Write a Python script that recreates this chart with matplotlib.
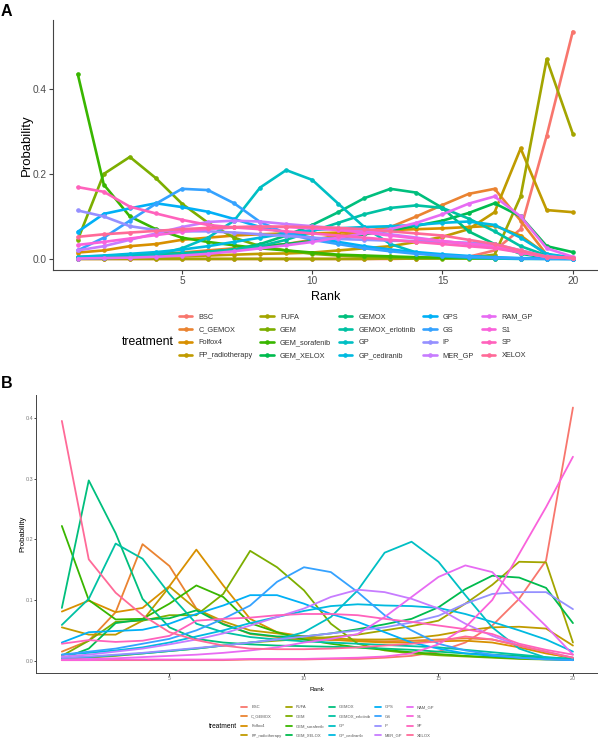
import numpy as np
import matplotlib
matplotlib.use("Agg")
import matplotlib.pyplot as plt

plt.rcParams['font.family'] = ['Liberation Sans', 'DejaVu Sans']

W, H = 598, 747

ranks = list(range(1, 21))

treatments = ["BSC", "C_GEMOX", "Folfox4", "FP_radiotherapy", "FUFA", "GEM",
              "GEM_sorafenib", "GEM_XELOX", "GEMOX", "GEMOX_erlotinib", "GP",
              "GP_cediranib", "GPS", "GS", "IP", "MER_GP", "RAM_GP", "S1", "SP", "XELOX"]

# ggplot default hue palette, 20 levels
colours = ["#F8766D", "#EA8331", "#D89000", "#C09B00", "#A3A500", "#7CAE00",
           "#39B600", "#00BB4E", "#00BF7D", "#00C1A3", "#00BFC4", "#00BAE0",
           "#00B0F6", "#35A2FF", "#9590FF", "#C77CFF", "#E76BF3", "#FA62DB",
           "#FF62BC", "#FF6A98"]

# ---- panel A rank probabilities ----
a_bsc = [0, 0, 0, 0, 0, 0, 0, 0, 0, 0, 0, 0, 0, 0.001, 0.002, 0.005, 0.02, 0.07, 0.29, 0.535]
a_c_gemox = [0.005, 0.007, 0.01, 0.012, 0.015, 0.02, 0.025, 0.03, 0.035, 0.045, 0.055, 0.065, 0.075, 0.1, 0.127, 0.153, 0.165, 0.09, 0.01, 0.002]
a_folfox4 = [0.015, 0.02, 0.03, 0.035, 0.045, 0.05, 0.055, 0.058, 0.06, 0.06, 0.062, 0.065, 0.068, 0.07, 0.072, 0.075, 0.078, 0.055, 0.01, 0.003]
a_fp_radio = [0.002, 0.003, 0.004, 0.005, 0.006, 0.008, 0.01, 0.012, 0.013, 0.015, 0.02, 0.025, 0.03, 0.04, 0.052, 0.07, 0.11, 0.26, 0.115, 0.11]
a_fufa = [0, 0, 0, 0, 0, 0, 0, 0, 0, 0, 0, 0, 0.001, 0.001, 0.002, 0.003, 0.01, 0.147, 0.47, 0.295]
a_gem = [0.045, 0.2, 0.24, 0.19, 0.13, 0.085, 0.05, 0.03, 0.02, 0.012, 0.008, 0.005, 0.003, 0.002, 0.001, 0.001, 0.001, 0.001, 0.001, 0.001]
a_gem_sora = [0.435, 0.175, 0.1, 0.07, 0.05, 0.04, 0.032, 0.025, 0.02, 0.015, 0.01, 0.008, 0.006, 0.004, 0.003, 0.002, 0.002, 0.001, 0.001, 0.001]
a_gem_xelox = [0.003, 0.005, 0.008, 0.01, 0.013, 0.017, 0.022, 0.028, 0.035, 0.042, 0.05, 0.058, 0.067, 0.078, 0.09, 0.108, 0.131, 0.1, 0.03, 0.016]
a_gemox = [0.002, 0.003, 0.005, 0.007, 0.01, 0.015, 0.022, 0.035, 0.055, 0.08, 0.11, 0.143, 0.165, 0.156, 0.12, 0.065, 0.035, 0.012, 0.003, 0.001]
a_gemox_erl = [0.003, 0.005, 0.007, 0.01, 0.013, 0.017, 0.022, 0.03, 0.045, 0.065, 0.085, 0.105, 0.12, 0.126, 0.12, 0.095, 0.065, 0.03, 0.008, 0.002]
a_gp = [0.001, 0.002, 0.004, 0.01, 0.025, 0.05, 0.09, 0.168, 0.209, 0.186, 0.13, 0.075, 0.035, 0.015, 0.006, 0.003, 0.001, 0, 0, 0]
a_gp_cedi = [0.005, 0.008, 0.012, 0.016, 0.022, 0.03, 0.04, 0.05, 0.06, 0.068, 0.072, 0.075, 0.077, 0.08, 0.085, 0.088, 0.08, 0.05, 0.012, 0.003]
a_gps = [0.064, 0.106, 0.119, 0.131, 0.122, 0.111, 0.094, 0.075, 0.062, 0.05, 0.04, 0.03, 0.022, 0.016, 0.011, 0.007, 0.004, 0.002, 0.001, 0]
a_gs = [0.02, 0.05, 0.09, 0.13, 0.165, 0.162, 0.131, 0.087, 0.06, 0.045, 0.035, 0.025, 0.018, 0.012, 0.008, 0.005, 0.003, 0.001, 0, 0]
a_ip = [0.114, 0.1, 0.077, 0.068, 0.065, 0.065, 0.062, 0.058, 0.054, 0.05, 0.047, 0.045, 0.043, 0.042, 0.04, 0.038, 0.035, 0.02, 0.006, 0.002]
a_mer_gp = [0.02, 0.03, 0.045, 0.06, 0.075, 0.087, 0.09, 0.088, 0.082, 0.077, 0.072, 0.065, 0.058, 0.05, 0.042, 0.035, 0.028, 0.015, 0.005, 0.002]
a_ram_gp = [0.001, 0.002, 0.003, 0.005, 0.008, 0.012, 0.018, 0.025, 0.032, 0.04, 0.05, 0.06, 0.07, 0.085, 0.105, 0.13, 0.147, 0.1, 0.025, 0.005]
a_s1 = [0.033, 0.04, 0.048, 0.056, 0.064, 0.07, 0.074, 0.076, 0.075, 0.072, 0.068, 0.062, 0.055, 0.048, 0.042, 0.036, 0.03, 0.015, 0.005, 0.002]
a_sp = [0.169, 0.158, 0.123, 0.107, 0.092, 0.08, 0.074, 0.07, 0.065, 0.06, 0.055, 0.05, 0.045, 0.04, 0.035, 0.03, 0.025, 0.015, 0.005, 0.002]
a_xelox = [0.052, 0.058, 0.062, 0.066, 0.07, 0.073, 0.075, 0.076, 0.076, 0.075, 0.073, 0.07, 0.065, 0.06, 0.055, 0.045, 0.035, 0.02, 0.005, 0.002]

# ---- panel B rank probabilities ----
b_bsc = [0.001, 0.001, 0.001, 0.001, 0.001, 0.001, 0.001, 0.002, 0.002, 0.002, 0.003, 0.003, 0.005, 0.008, 0.015, 0.03, 0.058, 0.102, 0.165, 0.417]
b_c_gemox = [0.015, 0.033, 0.08, 0.192, 0.156, 0.086, 0.061, 0.044, 0.039, 0.036, 0.034, 0.033, 0.032, 0.033, 0.035, 0.037, 0.035, 0.025, 0.013, 0.004]
b_folfox4 = [0.081, 0.099, 0.08, 0.087, 0.123, 0.183, 0.124, 0.069, 0.047, 0.04, 0.035, 0.032, 0.03, 0.03, 0.032, 0.033, 0.03, 0.022, 0.012, 0.005]
b_fp_radio = [0.055, 0.043, 0.043, 0.066, 0.122, 0.085, 0.065, 0.05, 0.045, 0.04, 0.037, 0.035, 0.035, 0.037, 0.042, 0.05, 0.055, 0.056, 0.053, 0.025]
b_fufa = [0.003, 0.005, 0.008, 0.012, 0.016, 0.02, 0.025, 0.03, 0.033, 0.036, 0.039, 0.043, 0.05, 0.057, 0.066, 0.094, 0.125, 0.163, 0.162, 0.03]
b_gem = [0.008, 0.033, 0.064, 0.066, 0.075, 0.075, 0.11, 0.181, 0.154, 0.116, 0.061, 0.028, 0.017, 0.012, 0.009, 0.007, 0.005, 0.003, 0.002, 0.001]
b_gem_sora = [0.222, 0.1, 0.068, 0.069, 0.094, 0.124, 0.105, 0.062, 0.047, 0.035, 0.028, 0.022, 0.018, 0.014, 0.011, 0.008, 0.006, 0.004, 0.003, 0.002]
b_gem_xelox = [0.003, 0.02, 0.062, 0.068, 0.07, 0.083, 0.06, 0.045, 0.04, 0.04, 0.045, 0.052, 0.06, 0.069, 0.088, 0.118, 0.14, 0.137, 0.12, 0.062]
b_gemox = [0.087, 0.297, 0.21, 0.102, 0.055, 0.036, 0.03, 0.027, 0.025, 0.024, 0.023, 0.022, 0.02, 0.018, 0.015, 0.012, 0.01, 0.008, 0.005, 0.003]
b_gemox_erl = [0.059, 0.102, 0.193, 0.168, 0.11, 0.061, 0.047, 0.039, 0.035, 0.032, 0.03, 0.028, 0.026, 0.024, 0.022, 0.018, 0.014, 0.01, 0.006, 0.003]
b_gp = [0.004, 0.006, 0.009, 0.012, 0.016, 0.02, 0.025, 0.03, 0.035, 0.047, 0.072, 0.116, 0.178, 0.196, 0.163, 0.108, 0.055, 0.02, 0.005, 0.001]
b_gp_cedi = [0.01, 0.013, 0.017, 0.022, 0.03, 0.04, 0.05, 0.062, 0.072, 0.082, 0.09, 0.093, 0.091, 0.09, 0.087, 0.077, 0.064, 0.05, 0.035, 0.015]
b_gps = [0.03, 0.047, 0.049, 0.051, 0.061, 0.077, 0.091, 0.108, 0.108, 0.094, 0.077, 0.064, 0.047, 0.03, 0.02, 0.012, 0.008, 0.005, 0.003, 0.001]
b_gs = [0.01, 0.015, 0.02, 0.028, 0.036, 0.05, 0.069, 0.091, 0.13, 0.154, 0.146, 0.113, 0.075, 0.05, 0.028, 0.017, 0.01, 0.005, 0.002, 0.001]
b_ip = [0.005, 0.007, 0.01, 0.013, 0.017, 0.021, 0.025, 0.03, 0.035, 0.04, 0.045, 0.05, 0.055, 0.063, 0.074, 0.094, 0.11, 0.113, 0.113, 0.085]
b_mer_gp = [0.007, 0.01, 0.015, 0.02, 0.027, 0.035, 0.045, 0.058, 0.072, 0.086, 0.105, 0.117, 0.113, 0.102, 0.086, 0.061, 0.041, 0.025, 0.015, 0.005]
b_ram_gp = [0.002, 0.003, 0.004, 0.006, 0.008, 0.01, 0.013, 0.017, 0.022, 0.03, 0.036, 0.044, 0.072, 0.105, 0.138, 0.157, 0.146, 0.1, 0.057, 0.01]
b_s1 = [0.001, 0.001, 0.002, 0.002, 0.002, 0.002, 0.002, 0.003, 0.003, 0.003, 0.004, 0.005, 0.007, 0.012, 0.027, 0.055, 0.1, 0.176, 0.253, 0.336]
b_sp = [0.028, 0.034, 0.031, 0.033, 0.041, 0.066, 0.069, 0.071, 0.075, 0.077, 0.077, 0.075, 0.069, 0.064, 0.058, 0.052, 0.044, 0.028, 0.018, 0.01]
b_xelox = [0.395, 0.167, 0.112, 0.075, 0.047, 0.034, 0.025, 0.02, 0.019, 0.019, 0.02, 0.022, 0.025, 0.028, 0.032, 0.04, 0.035, 0.025, 0.015, 0.005]

panel_a = [a_bsc, a_c_gemox, a_folfox4, a_fp_radio, a_fufa, a_gem, a_gem_sora, a_gem_xelox,
           a_gemox, a_gemox_erl, a_gp, a_gp_cedi, a_gps, a_gs, a_ip, a_mer_gp, a_ram_gp,
           a_s1, a_sp, a_xelox]
panel_b = [b_bsc, b_c_gemox, b_folfox4, b_fp_radio, b_fufa, b_gem, b_gem_sora, b_gem_xelox,
           b_gemox, b_gemox_erl, b_gp, b_gp_cedi, b_gps, b_gs, b_ip, b_mer_gp, b_ram_gp,
           b_s1, b_sp, b_xelox]


def px_axes(fig, x0, y0, x1, y1):
    # axes box given in pixel coords, origin top-left
    return fig.add_axes([x0 / W, 1 - y1 / H, (x1 - x0) / W, (y1 - y0) / H])


def style_axes(ax, tick_size, tick_len, tick_pad, tick_col, lw):
    for s in ['top', 'right']:
        ax.spines[s].set_visible(False)
    for s in ['left', 'bottom']:
        ax.spines[s].set_color('#444444')
        ax.spines[s].set_linewidth(lw)
    ax.tick_params(labelsize=tick_size, length=tick_len, width=lw, pad=tick_pad,
                   colors='#444444', labelcolor=tick_col)
    ax.set_xlim(0.05, 20.95)
    ax.set_xticks([5, 10, 15, 20])


fig = plt.figure(figsize=(W / 100, H / 100), dpi=100)

# ---------------- panel A ----------------
ymax_a = max(max(v) for v in panel_a)
axa = px_axes(fig, 53, 20.2, 597.5, 270.3)
for name, col, vals in zip(treatments, colours, panel_a):
    axa.plot(ranks, vals, color=col, lw=1.9, marker='o', ms=2.3, label=name,
             solid_capstyle='round', solid_joinstyle='round')
axa.set_ylim(-0.05 * ymax_a, 1.05 * ymax_a)
axa.set_yticks([0, 0.2, 0.4])
axa.set_yticklabels(["0.0", "0.2", "0.4"])
style_axes(axa, 7.3, 2.9, 1.5, '#4D4D4D', 0.8)
axa.set_xlabel("Rank", fontsize=9)
axa.set_ylabel("Probability", fontsize=9.5)
axa.xaxis.set_label_coords(0.5, -0.107)
axa.yaxis.set_label_coords(-0.0477, 0.5)
axa.xaxis.label.set_va('center')
axa.yaxis.label.set_va('center')

hA, lA = axa.get_legend_handles_labels()
fig.legend(hA, lA, ncol=5, loc='upper left', bbox_to_anchor=(179 / W, 1 - 313.5 / H),
           frameon=False, fontsize=5.3, handlelength=1.8, handletextpad=0.85,
           columnspacing=1.05, labelspacing=0.78, borderpad=0, borderaxespad=0,
           labelcolor='#333333')
fig.text(173.5 / W, 1 - 342.5 / H, "treatment", fontsize=8.8, ha='right', va='center')
fig.text(1 / W, 1 - 11 / H, "A", fontsize=11.5, fontweight='bold', ha='left', va='center')

# ---------------- panel B ----------------
ymax_b = max(max(v) for v in panel_b)
axb = px_axes(fig, 36.3, 394.9, 598.5, 673.4)
for name, col, vals in zip(treatments, colours, panel_b):
    axb.plot(ranks, vals, color=col, lw=1.3, label=name,
             solid_capstyle='round', solid_joinstyle='round')
axb.set_ylim(-0.05 * ymax_b, 1.05 * ymax_b)
axb.set_yticks([0, 0.1, 0.2, 0.3, 0.4])
axb.set_yticklabels(["0.0", "0.1", "0.2", "0.3", "0.4"])
style_axes(axb, 3.9, 1.8, 0.4, '#777777', 0.7)
axb.set_xlabel("Rank", fontsize=4.6)
axb.set_ylabel("Probability", fontsize=5.6)
axb.xaxis.set_label_coords(0.5, -0.057)
axb.yaxis.set_label_coords(-0.0246, 0.5)
axb.xaxis.label.set_va('center')
axb.yaxis.label.set_va('center')

hB, lB = axb.get_legend_handles_labels()
fig.legend(hB, lB, ncol=5, loc='upper left', bbox_to_anchor=(241 / W, 1 - 705 / H),
           frameon=False, fontsize=3.0, handlelength=1.45, handletextpad=1.0,
           columnspacing=1.0, labelspacing=1.35, borderpad=0, borderaxespad=0,
           labelcolor='#555555')
fig.text(237.5 / W, 1 - 727 / H, "treatment", fontsize=4.8, ha='right', va='center')
fig.text(1 / W, 1 - 384 / H, "B", fontsize=11.5, fontweight='bold', ha='left', va='center')

fig.savefig("out.png", dpi=100)
